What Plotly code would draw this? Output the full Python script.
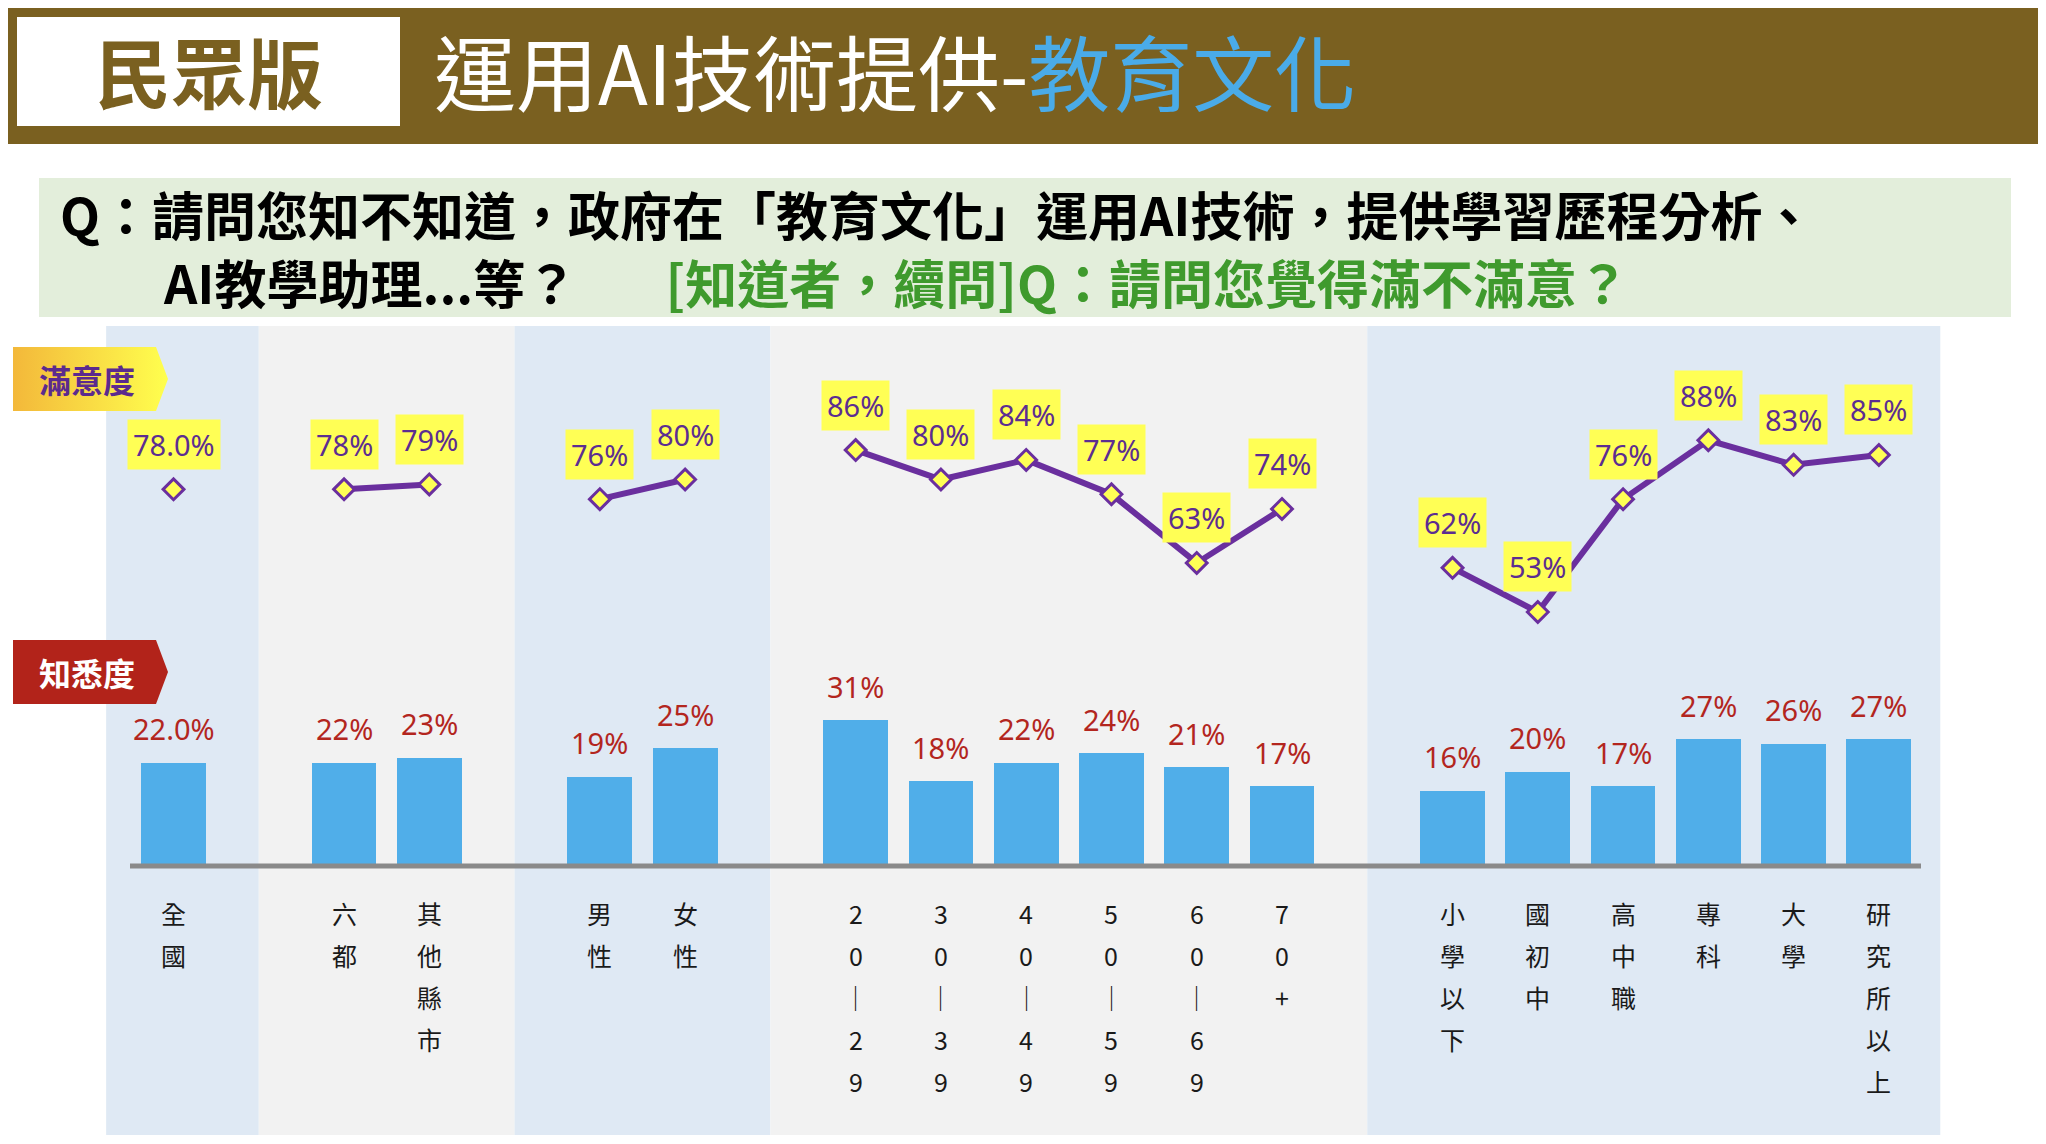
import plotly.graph_objects as go

# page body has an 8px margin, so the figure is drawn 8px in from the corner
OFF = 8
W, H = 2030, 1128

# data
categories = ["全國", "六都", "其他縣市", "男性", "女性",
              "20-29", "30-39", "40-49", "50-59", "60-69", "70+",
              "小學以下", "國初中", "高中職", "專科", "大學", "研究所以上"]
group_sizes = [1, 2, 2, 6, 6]
awareness = [22.0, 22, 23, 19, 25, 31, 18, 22, 24, 21, 17, 16, 20, 17, 27, 26, 27]
satisfaction = [78.0, 78, 79, 76, 80, 86, 80, 84, 77, 63, 74, 62, 53, 76, 88, 83, 85]

BROWN = "#7A6020"
BAR = "#50AEE9"
PURPLE = "#6A2F9E"
RED = "#B3261E"
YELLOW = "#FFFF55"
CJK = "Noto Sans CJK TC"


def px(x):
    return (x - OFF) / W


def py(y):
    return 1 - (y - OFF) / H


# x slots: one empty slot between groups
pos = []
gaps = []
slot = 0
for size in group_sizes:
    for k in range(size):
        pos.append(slot)
        slot += 1
    gaps.append(slot)
    slot += 1

# line broken between groups
line_x, line_y = [], []
i = 0
for size in group_sizes:
    for k in range(size):
        line_x.append(pos[i])
        line_y.append(satisfaction[i])
        i += 1
    line_x.append(None)
    line_y.append(None)

fig = go.Figure()

fig.add_trace(go.Bar(x=pos, y=awareness, width=0.76, marker_color=BAR,
                     marker_line_width=0, yaxis="y", hoverinfo="skip"))
fig.add_trace(go.Scatter(x=line_x, y=line_y, yaxis="y2", mode="lines+markers",
                         line=dict(color=PURPLE, width=6),
                         marker=dict(symbol="diamond", size=16, color=YELLOW,
                                     line=dict(color=PURPLE, width=3)),
                         connectgaps=False, hoverinfo="skip"))

# tags on a pixel overlay axis
fig.add_trace(go.Scatter(x=[13, 156, 168, 156, 13, 13], y=[347, 347, 379, 411, 411, 347],
                         xaxis="x3", yaxis="y3", mode="lines", line_width=0,
                         fill="toself",
                         fillgradient=dict(type="horizontal",
                                           colorscale=[[0, "#F3B83A"], [1, "#FFFF4E"]]),
                         hoverinfo="skip"))
fig.add_trace(go.Scatter(x=[13, 156, 168, 156, 13, 13], y=[640, 640, 672, 704, 704, 640],
                         xaxis="x3", yaxis="y3", mode="lines", line_width=0,
                         fill="toself", fillcolor="#B2231A", hoverinfo="skip"))

shapes = []
# header
shapes.append(dict(type="rect", xref="paper", yref="paper", x0=px(0), x1=px(2046),
                   y0=py(144), y1=py(0), fillcolor=BROWN, line_width=0, layer="below"))
shapes.append(dict(type="rect", xref="paper", yref="paper", x0=px(17), x1=px(400),
                   y0=py(126), y1=py(17), fillcolor="white", line_width=0, layer="below"))
# question box
shapes.append(dict(type="rect", xref="paper", yref="paper", x0=px(39), x1=px(2011),
                   y0=py(317), y1=py(178), fillcolor="#E3EEDB", line_width=0, layer="below"))
# group bands
edges = [-0.79] + gaps[:-1] + [20.72]
for g in range(len(group_sizes)):
    shapes.append(dict(type="rect", xref="x", yref="paper", x0=edges[g], x1=edges[g + 1],
                       y0=py(1135), y1=py(326),
                       fillcolor="#DFE9F4" if g % 2 == 0 else "#F2F2F2",
                       line_width=0, layer="below"))
# baseline
shapes.append(dict(type="line", xref="paper", yref="y", x0=px(130), x1=px(1921), y0=0, y1=0,
                   line=dict(color="#8A8A8A", width=5), layer="above"))

ann = []


def text_at(x, y, text, size, color, anchor="center"):
    ann.append(dict(x=px(x), y=py(y), xref="paper", yref="paper", xanchor=anchor,
                    yanchor="middle", align=anchor if anchor != "center" else "center",
                    text=text, showarrow=False,
                    font=dict(family=CJK, size=size, color=color)))


text_at(209, 70, "<b>民眾版</b>", 76, BROWN)
text_at(432, 70, "運用AI技術提供-<span style='color:#4AABE8'>教育文化</span>", 82, "white", "left")
question = ("<b>Q：請問您知不知道，政府在「教育文化」運用AI技術，提供學習歷程分析、<br>"
            "　\u2002\u2002AI教學助理...等？　\u2002\u2009<span style='color:#3F9A2D'>"
            "[知道者，續問]Q：請問您覺得滿不滿意？</span></b>")
text_at(58, 248, question, 52, "black", "left")
text_at(87, 379, "<b>滿意度</b>", 32, "#5B2A8E")
text_at(87, 672, "<b>知悉度</b>", 32, "white")

for k in range(len(categories)):
    s_txt = f"{satisfaction[k]:.1f}%" if k == 0 else f"{satisfaction[k]:.0f}%"
    a_txt = f"{awareness[k]:.1f}%" if k == 0 else f"{awareness[k]:.0f}%"
    ann.append(dict(x=pos[k], y=satisfaction[k], xref="x", yref="y2", yshift=45,
                    yanchor="middle", text=s_txt, showarrow=False, bgcolor=YELLOW,
                    borderpad=5, font=dict(family="Noto Sans", size=29, color="#5C2D91")))
    ann.append(dict(x=pos[k], y=awareness[k], xref="x", yref="y", yshift=34,
                    yanchor="middle", text=a_txt, showarrow=False,
                    font=dict(family="Noto Sans", size=29, color=RED)))
    chars = categories[k].replace("-", "｜")
    for j, ch in enumerate(chars):
        ann.append(dict(x=pos[k], y=py(913 + 42 * j), xref="x", yref="paper",
                        xanchor="center", yanchor="middle", text=ch, showarrow=False,
                        font=dict(family=CJK, size=25, color="#1A1A1A")))

fig.update_layout(
    width=W, height=H, margin=dict(l=0, r=0, t=0, b=0),
    paper_bgcolor="white", plot_bgcolor="rgba(0,0,0,0)",
    showlegend=False, bargap=0,
    xaxis=dict(range=[-1.941, 21.866], visible=False, fixedrange=True),
    yaxis=dict(range=[-57.45, 182.55], visible=False),
    yaxis2=dict(range=[-53.81, 176.11], overlaying="y", visible=False),
    xaxis3=dict(range=[OFF, OFF + W], overlaying="x", anchor="y3", visible=False),
    yaxis3=dict(range=[OFF + H, OFF], overlaying="y", anchor="x3", visible=False),
    shapes=shapes, annotations=ann,
)

fig.write_html("out.html")
